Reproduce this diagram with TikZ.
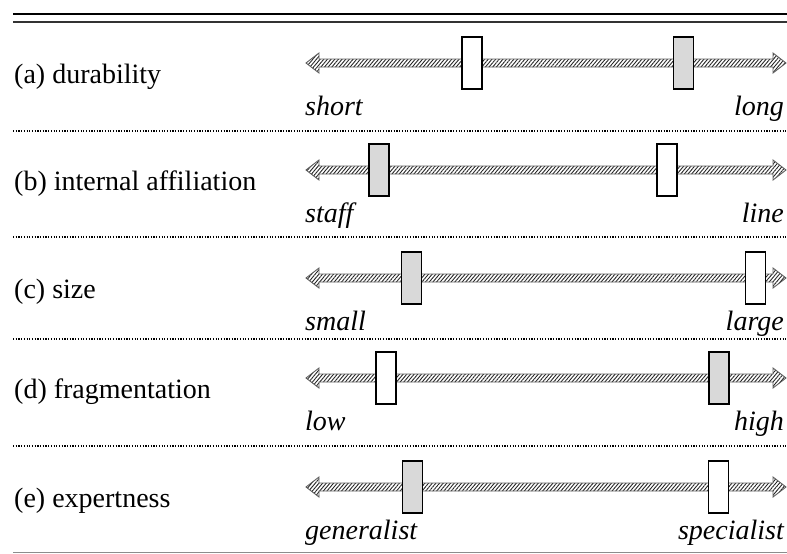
\documentclass[tikz,border=0pt]{standalone}
\usepackage{fontspec}
\setmainfont[Ligatures=NoCommon]{Liberation Serif}
\usetikzlibrary{patterns.meta}
\definecolor{scaleInk}{HTML}{000000}
\definecolor{scaleGray}{HTML}{D9D9D9}
\definecolor{scaleEdge}{HTML}{5F5F5F}
\definecolor{scaleHatch}{HTML}{262626}
\tikzset{
  every picture/.style={font=\fontsize{28}{31}\selectfont, text=scaleInk},
  scale arrow/.style={draw=scaleEdge, line width=0.9pt,
    pattern={Lines[angle=50,distance=2.8pt,line width=0.9pt]},
    pattern color=scaleHatch},
  scale box/.style={draw=scaleInk, line width=1.6pt, minimum width=20pt,
    minimum height=52pt, inner sep=0pt},
  scale white/.style={scale box, fill=white},
  scale gray/.style={scale box, fill=scaleGray},
  scale tag/.style={anchor=west, inner sep=0pt},
  scale end/.style={font=\fontsize{28}{31}\selectfont\itshape, inner sep=0pt},
  scale sep/.style={draw=scaleInk, line width=1.3pt, dash pattern=on 1.2pt off 1.5pt}
}

\begin{document}
\begin{tikzpicture}[x=1pt,y=-1pt]
  \useasboundingbox (0,0) rectangle (787,554);
  % rules
  \draw[line width=2.5pt] (13,14) -- (787,14);
  \draw[line width=1.6pt, black!80] (13,22) -- (787,22);
  \draw[line width=1pt, black!45] (13,552) -- (787,552);
  \foreach \s in {131,237,339,446}
    \draw[scale sep] (13,\s) -- (787,\s);
  % one row per dimension
  \foreach \y/\tag/\lo/\hi/\wx/\gx [count=\i] in {
      63/{(a) durability}/short/long/472/683.5,
      170/{(b) internal affiliation}/staff/line/667/379,
      278/{(c) size}/small/large/755.5/411.5,
      378/{(d) fragmentation}/low/high/386/719,
      487/{(e) expertness}/generalist/specialist/718.5/412.5} {
    \node[scale tag] (tag\i) at (14,\y+14) {\tag};
    \draw[scale arrow] (306,\y) -- (319,\y-10) -- (319,\y-4) -- (773,\y-4)
      -- (773,\y-10) -- (786,\y) -- (773,\y+10) -- (773,\y+4)
      -- (319,\y+4) -- (319,\y+10) -- cycle;
    \node[scale white] (w\i) at (\wx,\y) {};
    \node[scale gray] (g\i) at (\gx,\y) {};
    \node[scale end, anchor=base west] (lo\i) at (305,\y+52) {\lo};
    \node[scale end, anchor=base east] (hi\i) at (784,\y+52) {\hi};
  }
\end{tikzpicture}
\end{document}
